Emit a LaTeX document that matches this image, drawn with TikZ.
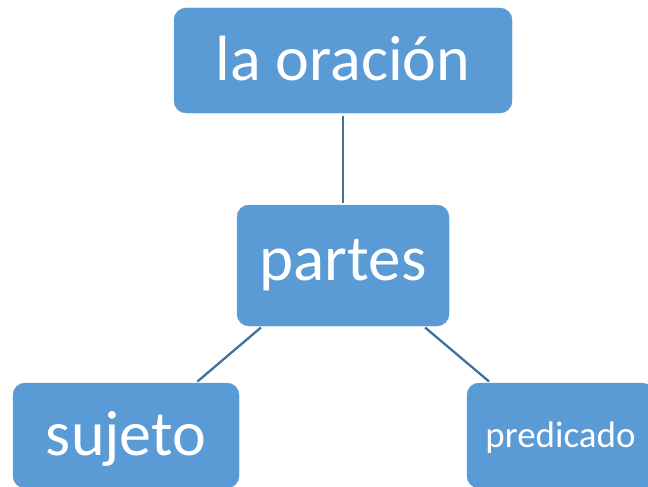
\documentclass[tikz,border=0pt]{standalone}
\usepackage{fontspec}
\setmainfont{Carlito}
\definecolor{boxblue}{HTML}{5B9BD5}
\definecolor{lineblue}{HTML}{41719C}
\tikzset{
	box/.style={fill=boxblue, draw=boxblue, rounded corners=12pt, inner sep=0pt, text=white, text height=49pt, text depth=9pt},
	link/.style={draw=lineblue, line width=2.3pt, shorten <=2pt, shorten >=2pt}
}
\begin{document}
\begin{tikzpicture}[x=1pt, y=-1pt]
		\useasboundingbox (0,0) rectangle (648,487);
		\clip (0,0) rectangle (648,487);
		\node[box, minimum width=338pt, minimum height=105pt, font=\fontsize{64}{72}\selectfont] (oracion) at (343,60.5) {la oración};
		\node[box, minimum width=212pt, minimum height=121pt, text height=43pt, text depth=14pt, font=\fontsize{65}{72}\selectfont] (partes) at (343,265.5) {partes};
		\node[box, minimum width=226pt, minimum height=105pt, font=\fontsize{64}{72}\selectfont] (sujeto) at (126,435.5) {sujeto};
		\node[box, minimum width=187pt, minimum height=105pt, text height=28pt, text depth=5pt, font=\fontsize{37}{42}\selectfont] (predicado) at (560.5,435.5) {predicado};
		\draw[link, shorten <=3pt] (oracion) -- (partes);
		\draw[link] (partes.217) -- (sujeto.37);
		\draw[link] (partes.323) -- (predicado.143);
	\end{tikzpicture}
\end{document}
